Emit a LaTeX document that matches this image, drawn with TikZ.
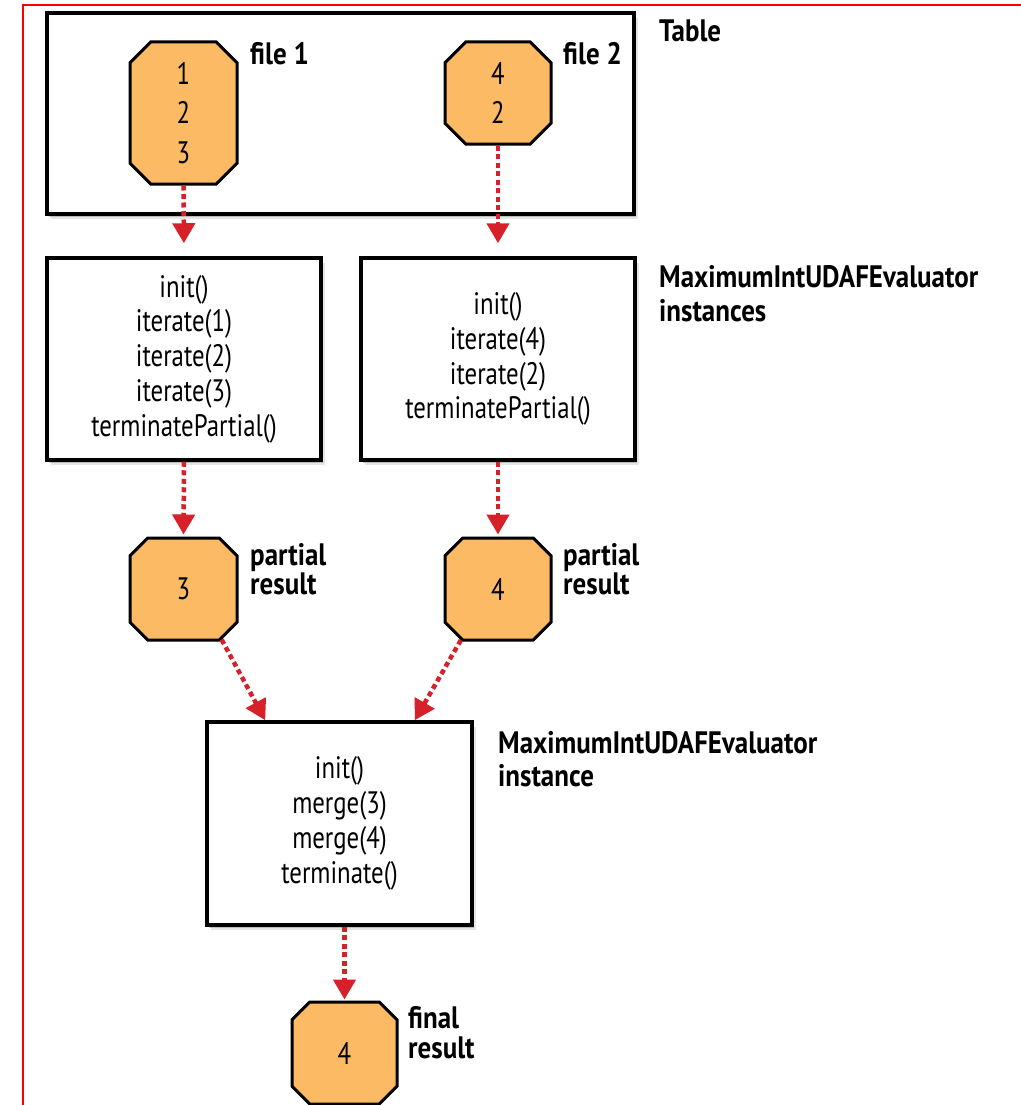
\documentclass[tikz,border=0pt]{standalone}
\usepackage{fontspec}
\setmainfont{PT Sans}
\newfontfamily\bodyfont{PT Sans}[FakeStretch=0.8]
\newfontfamily\lblfont{PT Sans}[FakeStretch=0.87]
\usetikzlibrary{shapes.misc,shadows,arrows.meta,calc}
\definecolor{octfill}{RGB}{251,186,99}
\definecolor{arrred}{RGB}{214,32,42}
\tikzset{
  boxshadow/.style={drop shadow={shadow xshift=2pt,shadow yshift=-3pt,fill=black,opacity=0.18},
                    drop shadow={shadow xshift=4pt,shadow yshift=-5pt,fill=black,opacity=0.10}},
  evbox/.style={draw=black,line width=3.5pt,fill=white,rectangle,boxshadow,inner sep=0pt,
                align=center,font=\bodyfont\fontsize{31}{34.8}\selectfont},
  tablebox/.style={draw=black,line width=3.5pt,fill=white,rectangle,boxshadow,inner sep=0pt},
  octo/.style={draw=black,line width=3pt,fill=octfill,chamfered rectangle,
               chamfered rectangle xsep=14pt,chamfered rectangle ysep=14pt,inner sep=0pt,
               align=center,font=\bodyfont\fontsize{31}{39.5}\selectfont},
  lbl/.style={anchor=base west,inner sep=0pt,font=\lblfont\bfseries\fontsize{31}{35}\selectfont},
  flow/.style={draw=arrred,line width=4.5pt,dash pattern=on 5pt off 3.5pt,
               -{Triangle[width=22pt,length=20pt,fill=arrred]}}
}
\begin{document}
\begin{tikzpicture}[x=1pt,y=-1pt]
\useasboundingbox (0,0) rectangle (1020,1105);
\draw[red,line width=2.5pt] (23,1106) -- (23,5) -- (1021,5);

% table
\node[tablebox,minimum width=587pt,minimum height=201pt] (table) at (340.5,113.5) {};
\node[octo,minimum width=107pt,minimum height=142pt] (f1) at (183.5,113) {1\\2\\3};
\node[octo,minimum width=106pt,minimum height=102pt] (f2) at (498,93) {4\\2};
\node[lbl] (lf1) at (250,65) {file 1};
\node[lbl] (lf2) at (563,65) {file 2};
\node[lbl] (ltab) at (659,42) {Table};

% evaluator instances
\node[evbox,minimum width=274pt,minimum height=202pt] (e1) at (184,359)
  {init()\\iterate(1)\\iterate(2)\\iterate(3)\\terminatePartial()};
\node[evbox,minimum width=274pt,minimum height=202pt] (e2) at (498,359)
  {init()\\iterate(4)\\iterate(2)\\terminatePartial()};
\node[lbl] (linst) at (659,287) {\begin{tabular}[t]{@{}l@{}}MaximumIntUDAFEvaluator\\[-0.5pt]instances\end{tabular}};

% partial results
\node[octo,minimum width=107pt,minimum height=102pt] (p1) at (183.5,589) {3};
\node[octo,minimum width=106pt,minimum height=102pt] (p2) at (498,589) {4};
\node[lbl] (lp1) at (250,565) {\begin{tabular}[t]{@{}l@{}}partial\\[-6pt]result\end{tabular}};
\node[lbl] (lp2) at (563,565) {\begin{tabular}[t]{@{}l@{}}partial\\[-6pt]result\end{tabular}};

% final evaluator
\node[evbox,minimum width=265pt,minimum height=203pt] (fb) at (339.5,823.5)
  {init()\\merge(3)\\merge(4)\\terminate()};
\node[lbl] (lfb) at (498,753) {\begin{tabular}[t]{@{}l@{}}MaximumIntUDAFEvaluator\\[-2pt]instance\end{tabular}};

% final result
\node[octo,minimum width=105pt,minimum height=102pt] (fr) at (344.5,1053) {4};
\node[lbl] (lfr) at (408,1028) {\begin{tabular}[t]{@{}l@{}}final\\[-5pt]result\end{tabular}};

% connectors
\draw[flow,shorten >=13pt] (f1.south) -- (e1.north);
\draw[flow,shorten >=13pt] (f2.south) -- (e2.north);
\draw[flow,shorten >=2pt] (e1.south) -- (p1.north);
\draw[flow,shorten >=2pt] (e2.south) -- (p2.north);
\draw[flow] (p1.-53) -- ([xshift=60pt]fb.north west);
\draw[flow] (p2.-126) -- ([xshift=-59pt]fb.north east);
\draw[flow,shorten >=1pt] (fr.north |- fb.south) -- (fr.north);
\end{tikzpicture}
\end{document}
